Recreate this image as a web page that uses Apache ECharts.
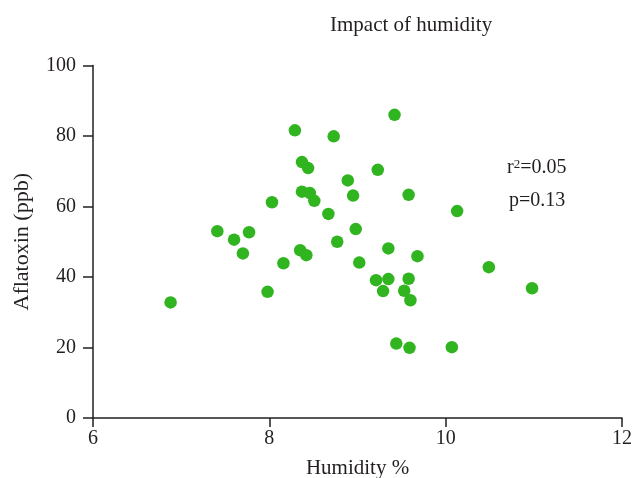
<!DOCTYPE html>
<html>
<head>
<meta charset="utf-8">
<script src="https://cdn.jsdelivr.net/npm/echarts@6/dist/echarts.min.js"></script>
<style>
  html, body { margin: 0; padding: 0; background: #fff; }
  #chart { width: 634px; height: 478px; }
</style>
</head>
<body>
<div id="chart"></div>
<script>
// humidity (%) vs aflatoxin (ppb)
var humidity = [6.88, 7.41, 7.60, 7.77, 7.70, 8.16, 7.98, 8.03, 8.29, 8.37,
	8.44, 8.37, 8.46, 8.51, 8.35, 8.42, 8.67, 8.73, 8.77, 8.89,
	8.95, 8.98, 9.02, 9.23, 9.42, 9.35, 9.21, 9.29, 9.35, 9.44,
	9.58, 9.58, 9.53, 9.60, 9.59, 9.68, 10.13, 10.07, 10.49, 10.98];
var aflatoxin = [32.8, 53.0, 50.6, 52.7, 46.7, 43.9, 35.8, 61.2, 81.6, 72.6,
	70.9, 64.2, 63.8, 61.6, 47.6, 46.2, 57.9, 79.9, 50.0, 67.4,
	63.1, 53.6, 44.1, 70.4, 86.0, 48.1, 39.1, 36.0, 39.4, 21.1,
	63.3, 39.5, 36.1, 33.4, 19.9, 45.9, 58.7, 20.1, 42.8, 36.8];
var xTicks = [6, 8, 10, 12];
var yTicks = [0, 20, 40, 60, 80, 100];

var points = humidity.map(function (h, i) { return [h, aflatoxin[i]]; });

var font = '"Liberation Serif", "DejaVu Serif", serif';
var ink = '#231f20';

var myChart = echarts.init(document.getElementById('chart'), null, {renderer: 'canvas'});

var option = {
	backgroundColor: '#fff',
	animation: false,
	title: {
		text: 'Impact of humidity',
		left: 325, top: 10,
		textStyle: {fontFamily: font, fontSize: 21, fontWeight: 'normal', color: ink}
	},
	// keep the plot box fixed, v6 would otherwise shrink it to fit the labels
	grid: {left: 93, right: 12, top: 65.5, bottom: 60, outerBoundsMode: 'none'},
	xAxis: {
		type: 'value',
		min: xTicks[0], max: xTicks[xTicks.length - 1], interval: 2,
		splitLine: {show: false},
		axisLine: {onZero: false, lineStyle: {color: ink, width: 1.5}},
		axisTick: {length: 9, lineStyle: {color: ink, width: 1.5}},
		axisLabel: {margin: 11, fontFamily: font, fontSize: 20, color: ink},
		name: 'Humidity %',
		nameLocation: 'middle', nameGap: 40,
		nameTextStyle: {fontFamily: font, fontSize: 21, color: ink}
	},
	yAxis: {
		type: 'value',
		min: yTicks[0], max: yTicks[yTicks.length - 1], interval: 20,
		splitLine: {show: false},
		axisLine: {show: true, onZero: false, lineStyle: {color: ink, width: 1.5}},
		axisTick: {show: true, length: 10, lineStyle: {color: ink, width: 1.5}},
		axisLabel: {margin: 17, fontFamily: font, fontSize: 20, color: ink},
		name: 'Aflatoxin (ppb)',
		nameLocation: 'middle', nameGap: 60, nameRotate: 90,
		nameTextStyle: {fontFamily: font, fontSize: 22, color: ink}
	},
	graphic: [
		{
			type: 'text', left: 507, top: 158,
			style: {
				text: 'r{sup|2}=0.05',
				font: '20px ' + font, fill: ink,
				rich: {
					sup: {fontSize: 13, fontFamily: font, verticalAlign: 'top', lineHeight: 13, padding: [0, 0, 9, 0]}
				}
			}
		},
		{
			type: 'text', left: 509, top: 191,
			style: {text: 'p=0.13', font: '20px ' + font, fill: ink}
		}
	],
	series: [
		{
			type: 'scatter',
			data: points,
			symbolSize: 12.5,
			itemStyle: {color: '#30b41f', opacity: 1}
		}
	]
};
myChart.setOption(option);
</script>
</body>
</html>
